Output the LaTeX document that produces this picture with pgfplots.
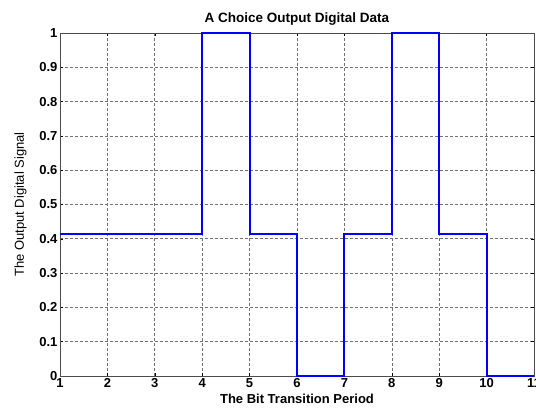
\documentclass[border=0pt]{standalone}
\usepackage{pgfplots}
\pgfplotsset{compat=1.18}
\usepackage{fontspec}
\setmainfont{Liberation Sans}
\begin{document}
\begin{tikzpicture}
\begin{axis}[
  scale only axis, width=474pt, height=343pt,
  xmin=1, xmax=11, ymin=0, ymax=1,
  xtick={1,...,11}, ytick={0,0.1,...,1},
  xticklabels={1,2,3,4,5,6,7,8,9,10,11},
  yticklabels={0,0.1,0.2,0.3,0.4,0.5,0.6,0.7,0.8,0.9,1},
  tick label style={font=\fontsize{13}{14}\selectfont\bfseries},
  xticklabel style={yshift=1pt},
  yticklabel style={xshift=1pt},
  tick align=inside, major tick length=3pt,
  tick style={black, line width=0.5pt},
  axis line style={draw=black!70, line width=0.8pt},
  grid=major,
  major grid style={draw=black!55, dash pattern=on 3pt off 2pt, line width=0.6pt},
  title={A Choice Output Digital Data},
  title style={font=\fontsize{13.5}{15}\selectfont\bfseries, yshift=-2pt},
  xlabel={The Bit Transition Period},
  xlabel style={font=\fontsize{13}{14}\selectfont\bfseries, yshift=1pt},
  ylabel={The Output Digital Signal},
  ylabel style={font=\fontsize{13}{14}\selectfont, yshift=6pt},
  clip=false,
]
\addplot[const plot, draw=blue, line width=2pt] coordinates {
(1,0.415) (4,1) (5,0.415) (6,0) (7,0.415) (8,1) (9,0.415) (10,0) (11,0)
};
\coordinate (bl) at (rel axis cs:0,0);
\coordinate (tr) at (rel axis cs:1,1);
\end{axis}
\pgfresetboundingbox
\path[use as bounding box] ([shift={(-60pt,-36pt)}]bl) rectangle ([shift={(2pt,33pt)}]tr);
\end{tikzpicture}
\end{document}
